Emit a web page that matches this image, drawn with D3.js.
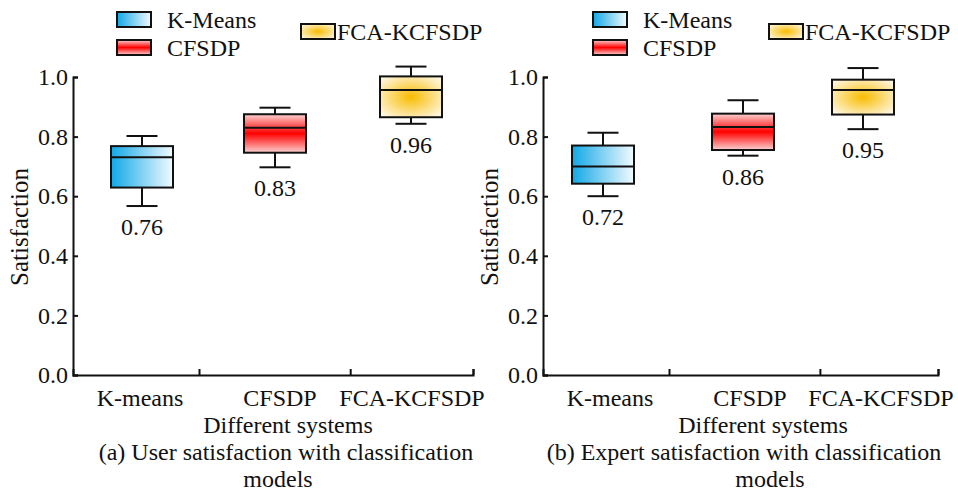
<!DOCTYPE html>
<html>
<head>
<meta charset="utf-8">
<script src="https://cdn.jsdelivr.net/npm/d3@7"></script>
<style>
  html, body { margin: 0; padding: 0; background: #fff; }
  svg text { font-family: "Liberation Serif", "Times New Roman", serif; fill: #111; }
</style>
</head>
<body>
<svg id="chart" width="958" height="491"></svg>
<script>
// categories
const systems = ["K-means", "CFSDP", "FCA-KCFSDP"];
const legendNames = ["K-Means", "CFSDP", "FCA-KCFSDP"];
const yTicks = [0, 0.2, 0.4, 0.6, 0.8, 1.0];

// (a) user satisfaction
const userMin = [0.567, 0.697, 0.843];
const userQ1 = [0.629, 0.746, 0.865];
const userMedian = [0.731, 0.830, 0.956];
const userQ3 = [0.768, 0.875, 1.002];
const userMax = [0.802, 0.897, 1.035];
const userLabels = ["0.76", "0.83", "0.96"];

// (b) expert satisfaction
const expertMin = [0.600, 0.736, 0.825];
const expertQ1 = [0.642, 0.755, 0.874];
const expertMedian = [0.700, 0.832, 0.956];
const expertQ3 = [0.770, 0.877, 0.991];
const expertMax = [0.813, 0.922, 1.030];
const expertLabels = ["0.72", "0.86", "0.95"];

const svg = d3.select("#chart");
const defs = svg.append("defs");

// fills
const blue = defs.append("linearGradient").attr("id", "gBlue")
  .attr("x1", "0%").attr("x2", "100%").attr("y1", "0%").attr("y2", "0%");
blue.append("stop").attr("offset", "0%").attr("stop-color", "#12a8e6");
blue.append("stop").attr("offset", "100%").attr("stop-color", "#f2fbff");

const red = defs.append("linearGradient").attr("id", "gRed")
  .attr("x1", "0%").attr("x2", "0%").attr("y1", "0%").attr("y2", "100%");
red.append("stop").attr("offset", "0%").attr("stop-color", "#fcd2d2");
red.append("stop").attr("offset", "50%").attr("stop-color", "#ff0000");
red.append("stop").attr("offset", "100%").attr("stop-color", "#fcd2d2");

const yellow = defs.append("radialGradient").attr("id", "gYellow")
  .attr("cx", "50%").attr("cy", "50%").attr("r", "65%");
yellow.append("stop").attr("offset", "0%").attr("stop-color", "#f8bc00");
yellow.append("stop").attr("offset", "100%").attr("stop-color", "#fff8e6");

const fills = ["url(#gBlue)", "url(#gRed)", "url(#gYellow)"];

function drawPanel(p) {
  const g = svg.append("g");
  const y = d3.scaleLinear().domain([0, 1]).range([375, 77]);
  const xAxisScale = d3.scaleLinear().domain([0, 1]).range([p.x0, p.x1]);
  const xBox = d3.scaleOrdinal(systems, p.boxX);
  const xLab = d3.scaleOrdinal(systems, p.labelX);

  // y axis
  const ya = g.append("g").attr("transform", `translate(${p.x0},0)`)
    .call(d3.axisLeft(y).tickValues(yTicks).tickFormat(d3.format(".1f"))
      .tickSize(-5).tickSizeOuter(-5).tickPadding(5));
  ya.selectAll("path, line").attr("stroke", "#111").attr("stroke-width", 2);
  ya.selectAll("text").attr("font-size", 24).attr("fill", "#111")
    .style("font-family", "Liberation Serif");

  // x axis
  const xa = g.append("g").attr("transform", "translate(0,375)")
    .call(d3.axisBottom(xAxisScale).tickValues(p.tickFrac).tickFormat("")
      .tickSize(-6).tickSizeOuter(-6));
  xa.selectAll("path, line").attr("stroke", "#111").attr("stroke-width", 2);

  g.selectAll("text.cat").data(systems).join("text").attr("class", "cat")
    .attr("x", d => xLab(d)).attr("y", 406)
    .attr("text-anchor", "middle").attr("font-size", 24).text(d => d);

  // boxes
  const bw = 62, cw = 31;
  const boxes = g.selectAll("g.box").data(systems).join("g").attr("class", "box");
  boxes.append("line")
    .attr("x1", d => xBox(d)).attr("x2", d => xBox(d))
    .attr("y1", (d, i) => y(p.min[i])).attr("y2", (d, i) => y(p.max[i]))
    .attr("stroke", "#111").attr("stroke-width", 2);
  boxes.append("line")
    .attr("x1", d => xBox(d) - cw / 2).attr("x2", d => xBox(d) + cw / 2)
    .attr("y1", (d, i) => y(p.max[i])).attr("y2", (d, i) => y(p.max[i]))
    .attr("stroke", "#111").attr("stroke-width", 2);
  boxes.append("line")
    .attr("x1", d => xBox(d) - cw / 2).attr("x2", d => xBox(d) + cw / 2)
    .attr("y1", (d, i) => y(p.min[i])).attr("y2", (d, i) => y(p.min[i]))
    .attr("stroke", "#111").attr("stroke-width", 2);
  boxes.append("rect")
    .attr("x", d => xBox(d) - bw / 2).attr("width", bw)
    .attr("y", (d, i) => y(p.q3[i]))
    .attr("height", (d, i) => y(p.q1[i]) - y(p.q3[i]))
    .attr("fill", (d, i) => fills[i]).attr("stroke", "#111").attr("stroke-width", 2);
  boxes.append("line")
    .attr("x1", d => xBox(d) - bw / 2).attr("x2", d => xBox(d) + bw / 2)
    .attr("y1", (d, i) => y(p.med[i])).attr("y2", (d, i) => y(p.med[i]))
    .attr("stroke", "#111").attr("stroke-width", 2);
  boxes.append("text")
    .attr("x", d => xBox(d)).attr("y", (d, i) => y(p.min[i]) + 29)
    .attr("text-anchor", "middle").attr("font-size", 24)
    .text((d, i) => p.labels[i]);

  // y label
  g.append("text")
    .attr("transform", `translate(${p.yLabX},227) rotate(-90)`)
    .attr("text-anchor", "middle").attr("font-size", 25).text("Satisfaction");

  // x label and caption
  g.append("text").attr("x", p.titleX[0]).attr("y", 433)
    .attr("text-anchor", "middle").attr("font-size", 24).text("Different systems");
  g.append("text").attr("x", p.titleX[1]).attr("y", 460)
    .attr("text-anchor", "middle").attr("font-size", 24).text(p.caption);
  g.append("text").attr("x", p.titleX[2]).attr("y", 487)
    .attr("text-anchor", "middle").attr("font-size", 24).text("models");

  // legend
  const lg = g.selectAll("g.leg").data(legendNames).join("g").attr("class", "leg")
    .attr("transform", (d, i) => `translate(${p.legPos[i][0]},${p.legPos[i][1]})`);
  lg.append("rect").attr("width", 34).attr("height", 15)
    .attr("fill", (d, i) => fills[i]).attr("stroke", "#111").attr("stroke-width", 2);
  lg.append("text").attr("x", (d, i) => i === 2 ? 36 : 50).attr("y", 16)
    .attr("font-size", 24).text(d => d);
}

drawPanel({
  x0: 73, x1: 473, tickFrac: [0.315, 0.693, 1],
  boxX: [142, 275, 411], labelX: [140, 280, 412],
  min: userMin, q1: userQ1, med: userMedian, q3: userQ3, max: userMax, labels: userLabels,
  yLabX: 28, titleX: [288, 286, 278],
  caption: "(a) User satisfaction with classification",
  legPos: [[117, 12], [117, 40], [301, 24]]
});

drawPanel({
  x0: 543, x1: 938, tickFrac: [0.319, 0.701, 1],
  boxX: [603, 743, 863], labelX: [610, 750, 881],
  min: expertMin, q1: expertQ1, med: expertMedian, q3: expertQ3, max: expertMax, labels: expertLabels,
  yLabX: 498, titleX: [763, 744, 770],
  caption: "(b) Expert satisfaction with classification",
  legPos: [[593, 12], [593, 40], [769, 24]]
});
</script>
</body>
</html>
